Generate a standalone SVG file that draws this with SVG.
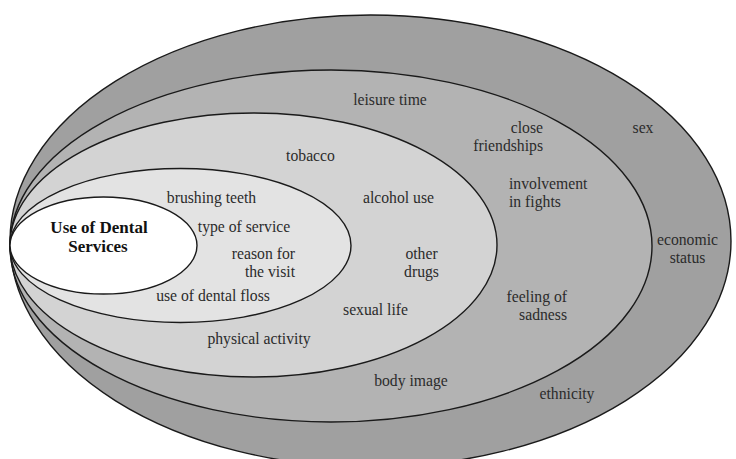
<svg xmlns="http://www.w3.org/2000/svg" width="736" height="459" viewBox="0 0 736 459">
<style>
.ring{stroke:#1a1a1a;stroke-width:1.4}
.lbl{font-family:"Liberation Serif","Times New Roman",serif;font-size:15.7px;fill:#2b2b2b}
.mid{text-anchor:middle}
.end{text-anchor:end}
.title{font-family:"Liberation Serif","Times New Roman",serif;font-size:17px;font-weight:bold;fill:#111;text-anchor:middle}
</style>
<rect width="736" height="459" fill="#ffffff"/>
<g id="ring-society">
<ellipse class="ring" cx="370.5" cy="241" rx="360.5" ry="226" fill="#a0a0a0"/>
<text class="lbl mid" x="643" y="133">sex</text>
<text class="lbl mid" x="687.5" y="245">economic</text>
<text class="lbl mid" x="687.5" y="263">status</text>
<text class="lbl mid" x="567" y="399">ethnicity</text>
</g>
<g id="ring-social">
<ellipse class="ring" cx="331" cy="246" rx="321" ry="176" fill="#b3b3b3"/>
<text class="lbl mid" x="390" y="105">leisure time</text>
<text class="lbl end" x="543" y="133">close</text>
<text class="lbl end" x="543" y="151">friendships</text>
<text class="lbl" x="509" y="189">involvement</text>
<text class="lbl" x="509" y="207">in fights</text>
<text class="lbl end" x="567" y="302">feeling of</text>
<text class="lbl end" x="567" y="320">sadness</text>
<text class="lbl mid" x="411" y="386">body image</text>
</g>
<g id="ring-behaviour">
<ellipse class="ring" cx="253.5" cy="245" rx="243.5" ry="132" fill="#d3d3d3"/>
<text class="lbl mid" x="310.5" y="161">tobacco</text>
<text class="lbl mid" x="398.5" y="203">alcohol use</text>
<text class="lbl mid" x="421.5" y="259">other</text>
<text class="lbl mid" x="421.5" y="277">drugs</text>
<text class="lbl mid" x="375.5" y="315">sexual life</text>
<text class="lbl mid" x="259" y="344">physical activity</text>
</g>
<g id="ring-oral-health">
<ellipse class="ring" cx="180.5" cy="245.5" rx="170.5" ry="77" fill="#e3e3e3"/>
<text class="lbl mid" x="211.5" y="203">brushing teeth</text>
<text class="lbl mid" x="244" y="232">type of service</text>
<text class="lbl end" x="295" y="259">reason for</text>
<text class="lbl end" x="295" y="277">the visit</text>
<text class="lbl mid" x="213" y="301">use of dental floss</text>
</g>
<g id="use-of-dental-services">
<ellipse class="ring" cx="103.5" cy="245.5" rx="93.5" ry="48.5" fill="#ffffff"/>
<text class="title" x="99" y="233">Use of Dental</text>
<text class="title" x="98" y="252">Services</text>
</g>
</svg>
